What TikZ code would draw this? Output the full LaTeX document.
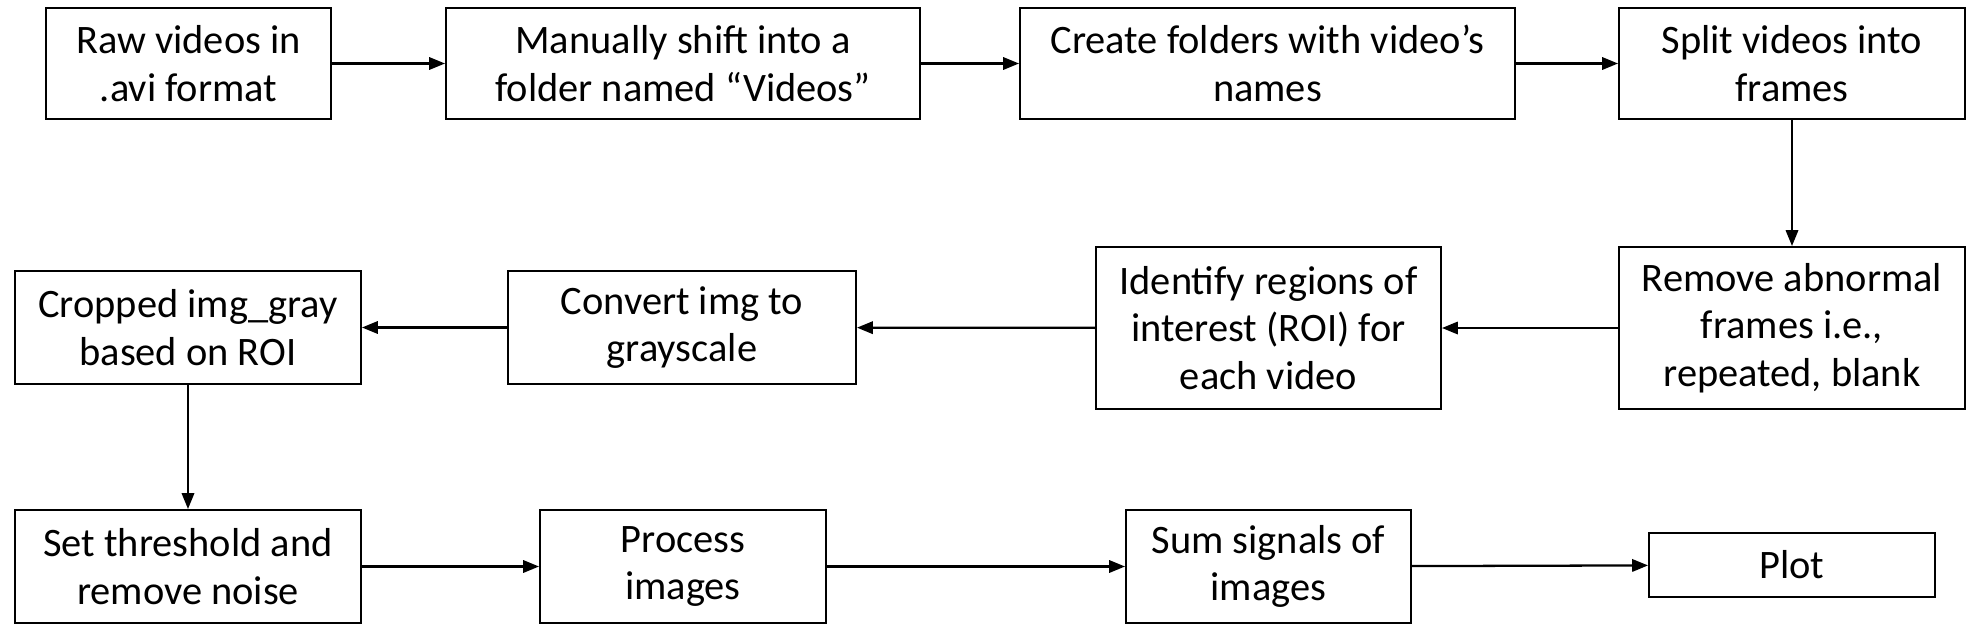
\documentclass[tikz,border=0pt]{standalone}
\usepackage{fontspec}
\setmainfont{Carlito}
\usetikzlibrary{positioning,shapes,arrows.meta}

\tikzset{
  stepbox/.style={rectangle, draw=black, line width=1.1pt, fill=white, text=black,
    align=center, font=\fontsize{23}{27}\selectfont, inner sep=0pt},
  flow/.style={-{Triangle[length=9pt,width=7pt]}, line width=1.3pt}
}

\begin{document}
\begin{tikzpicture}
    \useasboundingbox (0,0) rectangle (39.36,-12.52);

    % first row
    \node[stepbox, minimum width=5.7cm , minimum height=2.22cm] (raw)    at (3.77,-1.27)  {Raw videos in\\.avi format};
    \node[stepbox, minimum width=9.48cm, minimum height=2.22cm] (shift)  at (13.66,-1.27) {Manually shift into a\\folder named “Videos”};
    \node[stepbox, minimum width=9.9cm , minimum height=2.22cm] (folder) at (25.35,-1.27) {Create folders with video’s\\names};
    \node[stepbox, minimum width=6.92cm, minimum height=2.22cm] (split)  at (35.84,-1.27) {Split videos into\\frames};

    % second row
    \node[stepbox, minimum width=6.92cm, minimum height=3.24cm] (remove) at (35.84,-6.56) {Remove abnormal\\frames i.e.,\\repeated, blank};
    \node[stepbox, minimum width=6.9cm , minimum height=3.24cm] (roi)    at (25.37,-6.56) {Identify regions of\\interest (ROI) for\\each video};
    \node[stepbox, minimum width=6.96cm, minimum height=2.26cm] (gray)   at (13.64,-6.55) {Convert img to\\grayscale};
    \node[stepbox, minimum width=6.92cm, minimum height=2.26cm] (crop)   at (3.76,-6.55)  {Cropped img\_gray\\based on ROI};

    % third row
    \node[stepbox, minimum width=6.92cm, minimum height=2.26cm] (thresh) at (3.76,-11.33)  {Set threshold and\\remove noise};
    \node[stepbox, minimum width=5.72cm, minimum height=2.26cm] (proc)   at (13.66,-11.33) {Process\\images};
    \node[stepbox, minimum width=5.7cm , minimum height=2.26cm] (sum)    at (25.37,-11.33) {Sum signals of\\images};
    \node[stepbox, minimum width=5.72cm, minimum height=1.28cm] (plot)   at (35.84,-11.3)  {Plot};

    \draw[flow] (raw) -- (shift);
    \draw[flow] (shift) -- (folder);
    \draw[flow] (folder) -- (split);
    \draw[flow] (split) -- (remove);
    \draw[flow] (remove) -- (roi);
    \draw[flow] (roi) -- (gray);
    \draw[flow] (gray) -- (crop);
    \draw[flow] (crop) -- (thresh);
    \draw[flow] (thresh) -- (proc);
    \draw[flow] (proc) -- (sum);
    \draw[flow] (sum) -- (plot);
\end{tikzpicture}
\end{document}
